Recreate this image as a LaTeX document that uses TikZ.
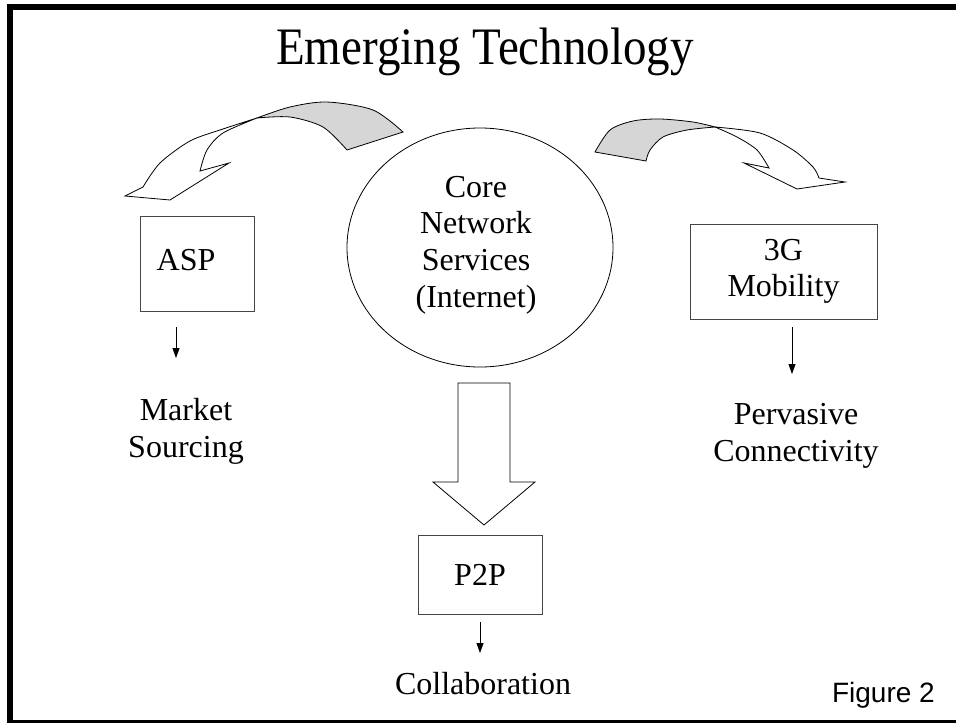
\documentclass[tikz,border=0pt]{standalone}
\usepackage{fontspec}
\setmainfont{Liberation Serif}
\newfontfamily\figfont{Liberation Sans}
\usetikzlibrary{shapes.geometric,arrows.meta}
\definecolor{ribbongray}{RGB}{214,214,214}
\definecolor{boxline}{RGB}{70,70,70}
\begin{document}
\begin{tikzpicture}[x=1pt,y=-1pt,
  boxnode/.style={draw=boxline, line width=1pt, fill=white, inner sep=0pt,
    font=\fontsize{32}{36.7}\selectfont, align=center},
  lbl/.style={font=\fontsize{32}{36.7}\selectfont, align=center, inner sep=0pt},
  smallarrow/.style={-{Triangle[length=10pt,width=7pt]}, line width=0.8pt},
  ribbon/.style={draw=black, line width=0.8pt, line join=miter},
  frameline/.style={line width=6pt, draw=black}]
\useasboundingbox (0,0) rectangle (956,723);
\clip (0,0) rectangle (956,723);
\fill[white] (0,0) rectangle (956,723);

% title
\node[font=\fontsize{47}{56}\selectfont, anchor=base, inner sep=0pt] (title) at (485,64) {\scalebox{1}[1.12]{Emerging Technology}};

% left ribbon arrow
\path[ribbon, fill=ribbongray]
  plot[smooth] coordinates {(403,132) (373,110) (327,102) (290,107) (257,118)}
  -- plot[smooth] coordinates {(257,118) (290,117) (323,127) (347,150)}
  -- cycle;
\path[ribbon, fill=white]
  plot[smooth] coordinates {(257,118) (223,129) (190,141) (160,163) (143,187)}
  -- (125,196) -- (170,200) -- (229,163)
  -- plot[smooth] coordinates {(200,171) (207,150) (223,133) (257,118)}
  -- cycle;

% right ribbon arrow
\path[ribbon, fill=ribbongray]
  plot[smooth] coordinates {(595,152) (610,130) (633,121) (660,119) (693,122) (715,127)}
  -- plot[smooth] coordinates {(715,127) (687,130) (663,137) (650,150) (646,161)}
  -- cycle;
\path[ribbon, fill=white]
  plot[smooth] coordinates {(715,127) (760,133) (793,150) (813,167) (819,178)}
  -- (845,182) -- (797,189) -- (744,163)
  -- plot[smooth] coordinates {(769,168) (757,150) (737,137) (715,127)}
  -- cycle;

% core ellipse
\node[ellipse, draw=black, line width=0.8pt, minimum width=266pt, minimum height=239pt, inner sep=0pt] (core) at (480,247.5) {};
\node[lbl] (coretext) at (476,245) {Core\\Network\\Services\\(Internet)};

% boxes
\node[boxnode, minimum width=114pt, minimum height=95pt] (asp) at (197,263.5) {};
\node[lbl] (asptext) at (186,260) {ASP};
\node[boxnode, minimum width=187pt, minimum height=95pt] (mob) at (783.5,271.5) {3G\\Mobility};
\node[boxnode, minimum width=124pt, minimum height=79pt] (p2p) at (480,574.5) {P2P};

% big hollow arrow
\draw[line width=0.8pt, fill=white] (458,383) -- (510,383) -- (510,482) -- (535,482)
  -- (484,525) -- (433,482) -- (458,482) -- cycle;

% small arrows
\coordinate (a1s) at (176,327); \coordinate (a1e) at (176,358);
\coordinate (a2s) at (792,327); \coordinate (a2e) at (792,374);
\coordinate (a3s) at (480,622); \coordinate (a3e) at (480,653);
\draw[smallarrow] (a1s) -- (a1e);
\draw[smallarrow] (a2s) -- (a2e);
\draw[smallarrow] (a3s) -- (a3e);

% labels
\node[lbl] (market) at (186,431) {Market\\Sourcing};
\node[lbl] (perv) at (796,436) {Pervasive\\Connectivity};
\node[lbl, anchor=base] (collab) at (483,694) {Collaboration};
\node[font=\figfont\fontsize{28}{32}\selectfont, anchor=base east, inner sep=0pt] (fig) at (935,702) {Figure 2};

% frame
\draw[frameline] (10,7) -- (962,7);
\draw[frameline] (10,4) -- (10,726);
\draw[frameline] (7,723) -- (962,723);
\end{tikzpicture}
\end{document}
